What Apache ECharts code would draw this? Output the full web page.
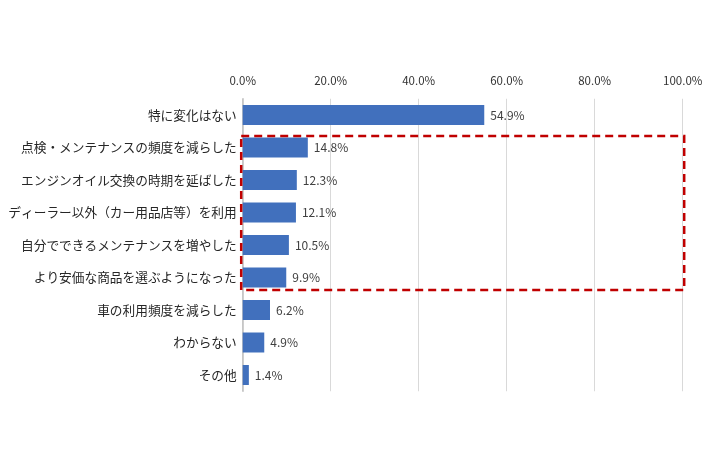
<!DOCTYPE html>
<html><head><meta charset="utf-8">
<script src="https://cdn.jsdelivr.net/npm/echarts@6/dist/echarts.min.js"></script>
<style>html,body{margin:0;padding:0;background:#fff}#c{width:710px;height:474px}</style>
</head><body><div id="c"></div>
<script>
const categories = ["特に変化はない","点検・メンテナンスの頻度を減らした","エンジンオイル交換の時期を延ばした","ディーラー以外（カー用品店等）を利用","自分でできるメンテナンスを増やした","より安価な商品を選ぶようになった","車の利用頻度を減らした","わからない","その他"];
const values = [54.9,14.8,12.3,12.1,10.5,9.9,6.2,4.9,1.4];
const xTicks = [0,20,40,60,80,100];
const highlightFrom = 1, highlightTo = 5;

const font = '"Noto Sans CJK JP","Noto Sans",sans-serif';
const chart = echarts.init(document.getElementById('c'));
chart.setOption({
  animation:false,
  grid:{left:242.7,right:27.3,top:98.75,bottom:82.75,containLabel:false},
  xAxis:{type:'value',position:'top',min:0,max:100,interval:20,
    axisLabel:{formatter:v=>v.toFixed(1)+'%',fontSize:11.5,color:'#333',fontFamily:font,margin:12},
    axisLine:{show:false},axisTick:{show:false},
    splitLine:{lineStyle:{color:'#d9d9d9',width:1}}},
  yAxis:{type:'category',inverse:true,data:categories,
    axisLine:{show:true,lineStyle:{color:'#bfbfbf',width:1.5}},axisTick:{show:false},
    axisLabel:{fontSize:12.7,color:'#262626',fontFamily:font,margin:6}},
  series:[{type:'bar',data:values,barWidth:20,
    itemStyle:{color:'#4170bd'},
    label:{show:true,position:'right',distance:6,formatter:p=>p.value.toFixed(1)+'%',fontSize:12,color:'#404040',fontFamily:font}}]
});
function drawBox(){
  const x0 = chart.convertToPixel({xAxisIndex:0},0);
  const x1 = chart.convertToPixel({xAxisIndex:0},100);
  const yA = chart.convertToPixel({yAxisIndex:0},categories[highlightFrom]);
  const yB = chart.convertToPixel({yAxisIndex:0},categories[highlightTo]);
  chart.setOption({graphic:[{type:'rect',silent:true,z:100,
    shape:{x:x0-1.5,y:yA-11.5,width:x1-x0+3,height:yB-yA+24},
    style:{fill:'none',stroke:'#c00000',lineWidth:2.5,lineDash:[8,5]}}]});
}
drawBox();
</script></body></html>
